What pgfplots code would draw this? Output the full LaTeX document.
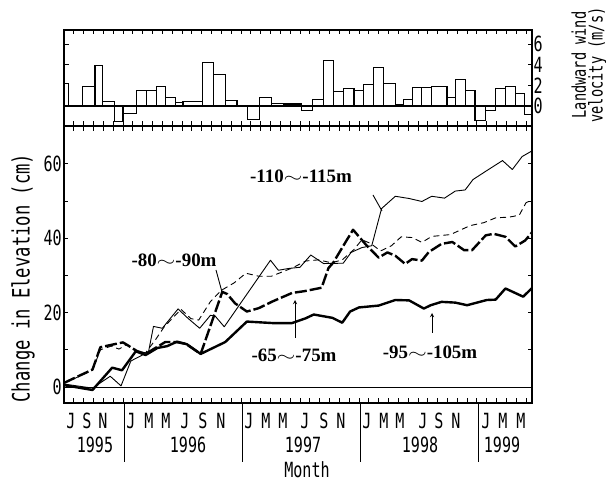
\documentclass[border=0pt]{standalone}
\usepackage{fontspec}
\usepackage{pgfplots}
\pgfplotsset{compat=1.18}
\setmainfont{Liberation Serif}
\newfontfamily\axfont[FakeStretch=0.72]{DejaVu Sans Mono}
\newcommand\ticksize{\axfont\fontsize{21}{21}\selectfont}

% x = months counted from 1 July 1995
\pgfplotsset{
  panel/.style={
    scale only axis, width=468bp, xmin=0, xmax=47.6,
    axis line style={line width=1.3bp},
    tick align=inside, major tick length=4.5bp, minor tick length=4.5bp,
    every tick/.style={black, line width=0.9bp},
    xtick={1,...,47}, xticklabels={},
    tick label style={font=\ticksize},
    /pgf/number format/assume math mode=true,
    clip=false,
  },
  thin/.style={black, line width=0.9bp, line join=round},
  thick/.style={black, line width=2.4bp, line join=round},
}

\begin{document}
\begin{tikzpicture}
\useasboundingbox (0,0) rectangle (606bp,488bp);

% wind panel
\begin{axis}[panel, at={(64bp,362bp)}, anchor=south west, height=96bp,
  ymin=-1.94, ymax=7.38, ytick={0,2,4,6},
  yticklabel pos=right, ytick pos=both, xtick pos=both,
  yticklabel style={inner xsep=1.5bp}]
\addplot[black, line width=1.1bp] coordinates {(0,0) (47.6,0)};
\addplot[ybar interval, draw=black, fill=white, line width=1.1bp] coordinates {
  (0,2.2) (0.5,0) (1.9,1.9) (3.15,3.9) (3.9,0.4) (5.1,-1.5) (6.0,-0.7)
  (7.35,1.5) (8.4,1.5) (9.4,1.9) (10.3,0.85) (11.35,0.3) (12.1,0.4)
  (14.05,4.2) (15.25,3.1) (16.45,0.5) (17.6,0) (18.65,-1.3) (19.85,0.8)
  (21.1,0.25) (22.3,0.2) (23.2,0.2) (24.2,-0.4) (25.3,0.6) (26.4,4.4)
  (27.4,1.4) (28.45,1.7) (29.5,1.5) (30.5,2.1) (31.5,3.7) (32.5,2.2)
  (33.7,0.1) (34.5,0.6) (35.4,1.8) (36.4,1.8) (37.4,1.9) (38.95,0.8)
  (39.8,2.6) (40.8,1.5) (41.8,-1.4) (42.9,-0.4) (43.9,1.7) (44.9,1.9)
  (45.9,1.2) (46.8,-0.8) (47.6,0)
};
\end{axis}

% elevation panel
\begin{axis}[panel, at={(64bp,85bp)}, anchor=south west, height=277bp,
  ymin=-4.3, ymax=70.2, ytick={0,20,40,60}, minor ytick={10,30,50},
  ytick pos=both, xtick pos=both,
  yticklabel style={inner xsep=2bp}]
\addplot[black, line width=1bp] coordinates {(0,0) (47.6,0)};
% -110~-115m
\addplot[thin] coordinates {
  (0,0.8) (2.9,-0.3) (4.7,2.9) (5.8,0.3) (6.8,7.0) (7.9,8.5) (8.6,9.5)
  (9.1,16.3) (10.0,15.8) (11.6,21.0) (12.6,18.5) (13.8,15.8) (14.9,19.3)
  (15.4,19.0) (16.3,16.2) (21.0,34.1) (21.8,31.4) (22.9,31.9) (24.0,32.2)
  (25.1,35.5) (26.4,33.2) (28.4,33.3) (29.2,36.2) (30.3,37.5) (31.3,38.0)
  (32.3,48.0) (33.7,51.3) (35.1,50.7) (36.4,49.9) (37.4,51.3) (38.7,50.8)
  (39.8,52.7) (40.8,53.0) (41.6,55.8) (43.0,58.2) (44.6,60.9) (45.6,58.5)
  (46.6,62.0) (47.6,63.5)
};
% -80~-90m
\addplot[thin, dash pattern=on 6bp off 4bp] coordinates {
  (0,1.0) (2.9,4.5) (3.7,10.0) (4.8,11.0) (5.6,10.2) (6.4,11.5) (7.3,9.6)
  (8.3,9.2) (9.3,12.7) (10.2,16.2) (11.9,20.9) (12.9,18.4) (13.7,18.0)
  (14.9,23.0) (16.0,26.0) (17.3,28.0) (18.5,30.6) (19.8,29.8) (21.1,29.8)
  (23.2,32.0) (24.6,33.9) (25.9,34.2) (27.2,33.4) (28.3,34.2) (29.5,37.0)
  (30.3,39.6) (31.2,38.6) (32.2,36.6) (33.3,38.0) (34.3,40.4) (35.4,40.2)
  (36.4,38.9) (37.4,40.5) (39.3,41.0) (41.3,43.4) (42.7,44.2) (43.9,45.5)
  (45.3,45.7) (46.3,46.2) (47.0,49.6) (47.6,50.2)
};
% -65~-75m
\addplot[thick, dash pattern=on 12bp off 3bp] coordinates {
  (0,1.1) (2.9,4.7) (3.7,10.7) (5.1,11.5) (6.0,12.0) (6.8,10.7) (7.4,9.7)
  (8.3,8.9) (9.3,10.5) (10.3,12.1) (11.4,12.1) (12.4,11.6) (13.9,8.9)
  (16.1,25.6) (16.6,25.0) (17.4,22.5) (18.6,20.3) (19.8,21.2) (21.2,23.0)
  (23.2,25.3) (24.5,25.8) (26.2,26.7) (26.9,32.0) (27.4,33.5) (28.3,37.5)
  (29.4,42.3) (30.7,38.3) (32.0,34.8) (32.9,36.2) (33.7,35.3) (34.7,33.1)
  (35.4,34.4) (36.4,34.0) (37.1,36.3) (38.4,38.5) (39.5,39.0) (40.7,36.8)
  (41.5,36.8) (42.9,40.8) (43.7,41.2) (44.9,40.4) (45.9,37.8) (46.9,39.4)
  (47.6,41.6)
};
% -95~-105m
\addplot[thick] coordinates {
  (0,0.5) (2.9,-0.8) (4.9,5.2) (5.9,4.5) (7.3,9.6) (8.3,8.6) (9.5,10.5)
  (10.5,11.0) (11.5,12.2) (12.5,11.5) (13.9,8.9) (16.4,12.1) (18.6,17.6)
  (21.2,17.2) (23.2,17.2) (24.6,18.5) (25.4,19.5) (27.3,18.6) (28.3,17.3)
  (29.1,20.3) (30.0,21.4) (32.0,21.9) (33.7,23.4) (35.1,23.3) (36.6,21.1)
  (37.3,22.0) (38.4,22.9) (39.8,22.7) (41.0,22.0) (43.0,23.4) (43.9,23.5)
  (44.9,26.5) (46.7,24.3) (47.6,26.6)
};
\end{axis}

% series labels and pointers
\begin{scope}[font=\bfseries\fontsize{19}{19}\selectfont]
\node at (301bp,312bp) {-110\scalebox{1.4}[1]{$\sim$}-115m};
\node at (174bp,228bp) {-80\scalebox{1.4}[1]{$\sim$}-90m};
\node at (294bp,133bp) {-65\scalebox{1.4}[1]{$\sim$}-75m};
\node at (430bp,136bp) {-95\scalebox{1.4}[1]{$\sim$}-105m};
\end{scope}
\draw[line width=0.9bp] (373bp,293bp) -- (382bp,277bp);
\draw[line width=0.9bp] (216bp,218bp) -- (222bp,196bp);
\draw[line width=0.9bp, -stealth] (295bp,150bp) -- (295bp,188bp);
\draw[line width=0.9bp, -stealth] (432bp,155bp) -- (432bp,175bp);

% month and year labels
\begin{scope}[font=\ticksize]
\foreach \x/\m in {71/J,87/S,103/N,
    131/J,149/M,166/M,185/J,203/S,221/N,
    249/J,266/M,283/M,305/J,324/S,341/N,
    367/J,384/M,400/M,423/J,439/S,456/N,
    486/J,503/M,521/M}
  \node at (\x bp,67bp) {\m};
\foreach \x/\y in {95/1995,188/1996,303/1997,420/1998,502/1999}
  \node at (\x bp,43bp) {\y};
\node at (307bp,18bp) {Month};
\end{scope}
\foreach \x in {124,242,360,478}
  \draw[line width=0.9bp] (\x bp,85bp) -- (\x bp,26bp);

% axis titles
\node[rotate=90, font=\axfont\fontsize{24}{24}\selectfont] at (23bp,210bp)
  {Change in Elevation (cm)};
\node[rotate=90, align=center, font=\axfont\fontsize{19}{17}\selectfont]
  at (589bp,423bp) {Landward wind\\velocity (m/s)};
\end{tikzpicture}
\end{document}
